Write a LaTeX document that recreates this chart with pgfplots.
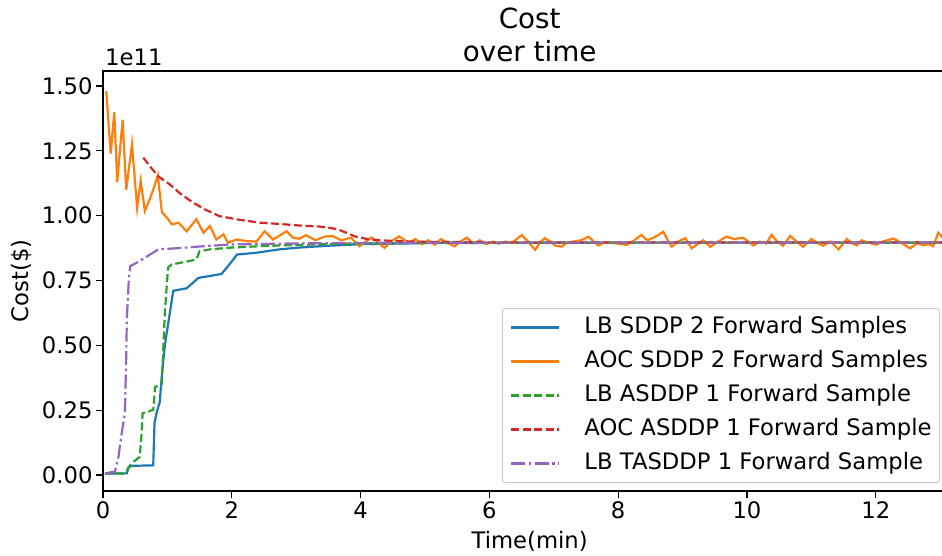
\documentclass[border=0pt]{standalone}
\usepackage{fontspec}
\setmainfont{DejaVu Sans}
\usepackage{pgfplots}
\pgfplotsset{compat=1.18}
\definecolor{cA}{HTML}{1F77B4}
\definecolor{cB}{HTML}{FF7F0E}
\definecolor{cC}{HTML}{2CA02C}
\definecolor{cD}{HTML}{D62728}
\definecolor{cE}{HTML}{9467BD}
\newcommand{\fs}{\fontsize{22.7}{27}\selectfont}
\newcommand{\ft}{\fontsize{27.8}{33}\selectfont}
\begin{document}
\begin{tikzpicture}
\useasboundingbox (-103pt,-64pt) rectangle (839pt,491pt);
\clip (-103pt,-64pt) rectangle (839pt,491pt);
\begin{axis}[
  at={(0pt,0pt)}, anchor=south west,
  scale only axis, width=853.3pt, height=420pt,
  xmin=0, xmax=13.25, ymin=-0.062, ymax=1.558,
  xtick={0,2,4,6,8,10,12},
  ytick={0,0.25,0.5,0.75,1,1.25,1.5},
  scaled y ticks=false,
  tick align=outside, xtick pos=bottom, ytick pos=left,
  major tick length=7pt,
  every tick/.style={black, line width=1.2pt},
  axis line style={black, line width=1.2pt},
  /pgf/number format/assume math mode=true,
  ticklabel style={font=\fs},
  yticklabel style={/pgf/number format/.cd, fixed, fixed zerofill, precision=2},
  xlabel={Time(min)}, ylabel={Cost(\$)},
  every axis x label/.style={at={(axis description cs:0.5,0)}, anchor=base, yshift=-57pt, font=\fs},
  every axis y label/.style={at={([xshift=-74pt]axis description cs:0,0.5)}, rotate=90, anchor=base, font=\fs},
  legend style={at={(0.981,0.019)}, anchor=south east, font=\fs,
    draw={rgb,255:red,204;green,204;blue,204}, rounded corners=3pt, line width=1pt,
    inner xsep=8pt, inner ysep=8pt, row sep=12pt, column sep=24pt,
    nodes={inner sep=0pt, text height=17pt, text depth=5pt}},
  legend cell align=left,
  legend image code/.code={\draw[#1] (0pt,0pt) -- (48pt,0pt);},
  after end axis/.code={
    \node[anchor=base, font=\ft, inner sep=0pt] at ([yshift=9.5pt]axis description cs:0.5,1) {over time};
    \node[anchor=base, font=\ft, inner sep=0pt] at ([yshift=42.5pt]axis description cs:0.5,1) {Cost};
    \node[anchor=base west, font=\fs, inner sep=0pt] at ([xshift=2pt,yshift=5pt]axis description cs:0,1) {1e11};
  },
]
% LB SDDP 2 Forward Samples
\addplot[cA, line width=2.2pt] coordinates {
(0.03,0.005) (0.37,0.006) (0.40,0.03) (0.45,0.035) (0.78,0.037) (0.80,0.20) (0.83,0.238)
(0.88,0.28) (0.92,0.40) (0.96,0.50) (1.01,0.58) (1.06,0.66) (1.09,0.71) (1.30,0.72)
(1.40,0.742) (1.48,0.76) (1.84,0.775) (1.94,0.805) (2.02,0.83) (2.08,0.85) (2.38,0.857)
(2.74,0.87) (3.05,0.877) (3.5,0.884) (4.0,0.89) (5,0.894) (6,0.895) (8,0.896) (10,0.896)
(12,0.896) (13.2,0.896)};
\addlegendentry{LB SDDP 2 Forward Samples}
% AOC SDDP 2 Forward Samples
\addplot[cB, line width=2.2pt] coordinates {
(0.05,1.48) (0.12,1.24) (0.175,1.40) (0.22,1.13) (0.305,1.37) (0.36,1.10) (0.45,1.275)
(0.53,1.03) (0.585,1.134) (0.65,1.018) (0.72,1.06) (0.78,1.10) (0.85,1.156) (0.915,1.013)
(1.0,0.99) (1.07,0.966) (1.17,0.973) (1.30,0.94) (1.45,0.986) (1.56,0.934) (1.66,0.96)
(1.76,0.908) (1.87,0.928) (1.94,0.895) (2.07,0.908) (2.23,0.902) (2.38,0.90) (2.51,0.94)
(2.64,0.908) (2.85,0.94) (2.95,0.915) (3.05,0.911) (3.15,0.925) (3.3,0.905) (3.45,0.92)
(3.57,0.921) (3.7,0.905) (3.85,0.915) (3.98,0.882) (4.17,0.916) (4.37,0.876) (4.5,0.905)
(4.6,0.92) (4.75,0.895) (4.85,0.91) (4.95,0.89) (5.05,0.905) (5.15,0.888) (5.25,0.91)
(5.35,0.895) (5.46,0.882) (5.55,0.9) (5.65,0.915) (5.75,0.893) (5.85,0.905) (5.95,0.89)
(6.05,0.9) (6.15,0.892) (6.25,0.9) (6.35,0.895) (6.50,0.925) (6.60,0.9) (6.71,0.868)
(6.78,0.895) (6.86,0.913) (6.95,0.9) (7.02,0.885) (7.12,0.88) (7.2,0.895) (7.3,0.9)
(7.42,0.905) (7.54,0.919) (7.62,0.9) (7.69,0.885) (7.8,0.898) (7.9,0.895) (8.0,0.892)
(8.13,0.887) (8.25,0.905) (8.36,0.926) (8.45,0.905) (8.55,0.915) (8.62,0.925) (8.70,0.938)
(8.77,0.905) (8.83,0.88) (8.93,0.9) (9.04,0.913) (9.14,0.874) (9.23,0.89) (9.32,0.905)
(9.43,0.88) (9.55,0.9) (9.68,0.919) (9.8,0.91) (9.94,0.915) (10.02,0.9) (10.10,0.885)
(10.2,0.9) (10.3,0.893) (10.38,0.926) (10.47,0.9) (10.56,0.884) (10.67,0.922) (10.77,0.9)
(10.87,0.88) (11.0,0.91) (11.09,0.895) (11.18,0.884) (11.3,0.9) (11.42,0.87) (11.55,0.91)
(11.62,0.895) (11.70,0.885) (11.78,0.905) (11.9,0.895) (12.01,0.888) (12.1,0.9) (12.18,0.905)
(12.27,0.912) (12.4,0.895) (12.53,0.874) (12.65,0.895) (12.74,0.885) (12.82,0.89) (12.89,0.882)
(12.97,0.934) (13.1,0.9) (13.2,0.895)};
\addlegendentry{AOC SDDP 2 Forward Samples}
% LB ASDDP 1 Forward Sample
\addplot[cC, line width=2.2pt, dash pattern=on 8pt off 3.5pt] coordinates {
(0.03,0.005) (0.34,0.006) (0.40,0.03) (0.445,0.045) (0.57,0.07) (0.60,0.16) (0.615,0.238)
(0.78,0.251) (0.81,0.34) (0.91,0.348) (0.93,0.45) (0.96,0.625) (1.01,0.80) (1.065,0.812)
(1.32,0.824) (1.45,0.831) (1.50,0.863) (1.66,0.87) (2.0,0.877) (2.5,0.883) (3.0,0.887)
(3.6,0.891) (4.2,0.894) (5,0.895) (7,0.896) (10,0.896) (13.2,0.896)};
\addlegendentry{LB ASDDP 1 Forward Sample}
% AOC ASDDP 1 Forward Sample
\addplot[cD, line width=2.2pt, dash pattern=on 8pt off 3.5pt] coordinates {
(0.625,1.224) (0.7,1.20) (0.85,1.153) (1.04,1.12) (1.2,1.085) (1.40,1.05) (1.6,1.022)
(1.81,0.998) (2.1,0.985) (2.43,0.973) (2.74,0.968) (3.05,0.962) (3.36,0.958) (3.55,0.952)
(3.67,0.945) (3.8,0.932) (3.91,0.92) (4.14,0.908) (4.45,0.903) (5,0.899) (6,0.897)
(8,0.897) (10,0.897) (13.2,0.897)};
\addlegendentry{AOC ASDDP 1 Forward Sample}
% LB TASDDP 1 Forward Sample
\addplot[cE, line width=2.2pt, dash pattern=on 14pt off 3.5pt on 2.5pt off 3.5pt] coordinates {
(0.03,0.006) (0.186,0.013) (0.21,0.04) (0.24,0.07) (0.29,0.16) (0.34,0.238) (0.36,0.45)
(0.37,0.60) (0.40,0.75) (0.42,0.805) (0.52,0.818) (0.6,0.83) (0.73,0.85) (0.86,0.87)
(1.245,0.876) (1.6,0.883) (2.02,0.889) (3,0.893) (4,0.895) (6,0.896) (9,0.896) (13.2,0.896)};
\addlegendentry{LB TASDDP 1 Forward Sample}
\end{axis}
\end{tikzpicture}
\end{document}
